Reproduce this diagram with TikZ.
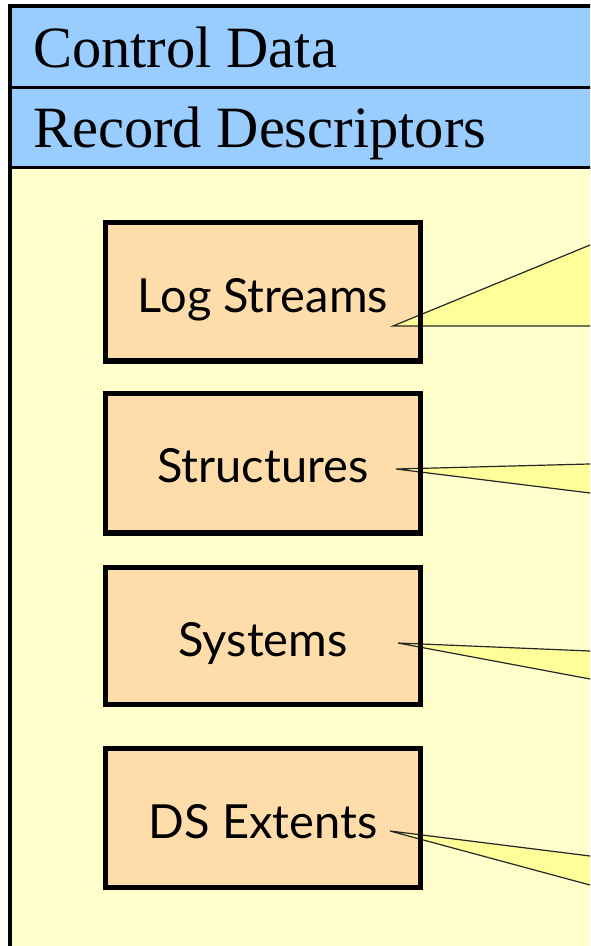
\documentclass[tikz,border=0pt]{standalone}
\usepackage{fontspec}
\setmainfont{Liberation Serif}
\newfontfamily\boxfont{Lato}
\definecolor{bandblue}{HTML}{99CCFF}
\definecolor{bodyyellow}{HTML}{FFFFCC}
\definecolor{boxpeach}{HTML}{FFDDAA}
\definecolor{wedgeyellow}{HTML}{FFFF99}
\tikzset{
  bandtext/.style={anchor=base west, inner sep=0pt, font=\fontsize{58.5}{60}\selectfont},
  boxtext/.style={anchor=base, inner sep=0pt, font=\boxfont\fontsize{47}{50}\selectfont},
  boxfill/.style={fill=boxpeach, draw=none},
  boxline/.style={draw=black, line width=5.5pt, line join=miter},
  wedge/.style={fill=wedgeyellow, draw=black!85, line width=1.2pt, line join=miter},
  frameline/.style={draw=black, line width=4pt}
}
\begin{document}
\begin{tikzpicture}[x=1pt,y=-1pt]
\useasboundingbox (0,0) rectangle (590,946);
\clip (0,0) rectangle (590,946);
% frame and bands
\fill[bodyyellow] (9.5,5.5) rectangle (640,1000);
\fill[bandblue] (9.5,5.5) rectangle (640,167.5);
\draw[frameline] (9.5,1000) -- (9.5,5.5) -- (640,5.5);
\draw[black, line width=3.2pt] (9.5,87.5) -- (640,87.5);
\draw[black, line width=3.2pt] (9.5,167.5) -- (640,167.5);
\node[bandtext] (cd) at (33,67) {Control Data};
\node[bandtext] (rd) at (33,147.5) {Record Descriptors};
% box fills
\fill[boxfill] (105.5,222.5) rectangle (420.5,361);
\fill[boxfill] (105.5,393.5) rectangle (420.5,533);
\fill[boxfill] (105.5,567.5) rectangle (420.5,704.5);
\fill[boxfill] (105.5,748.5) rectangle (420.5,887.5);
% callout tips
\coordinate (t1) at (393,326);
\coordinate (t2) at (396,469);
\coordinate (t3) at (398,643);
\coordinate (t4) at (390,831);
\draw[wedge] (t1) -- (620,232.7) -- (620,326) -- cycle;
\draw[wedge] (t2) -- (620,463.2) -- (620,496.7) -- cycle;
\draw[wedge] (t3) -- (620,652.25) -- (620,684.6) -- cycle;
\draw[wedge] (t4) -- (620,859.75) -- (620,893.1) -- cycle;
% box borders
\draw[boxline] (105.5,222.5) rectangle (420.5,361);
\draw[boxline] (105.5,393.5) rectangle (420.5,533);
\draw[boxline] (105.5,567.5) rectangle (420.5,704.5);
\draw[boxline] (105.5,748.5) rectangle (420.5,887.5);
% box texts
\node[boxtext] (ls) at (263,312) {Log Streams};
\node[boxtext] (st) at (263,482) {Structures};
\node[boxtext] (sy) at (263,656) {Systems};
\node[boxtext] (ds) at (263,838) {DS Extents};
\end{tikzpicture}
\end{document}
